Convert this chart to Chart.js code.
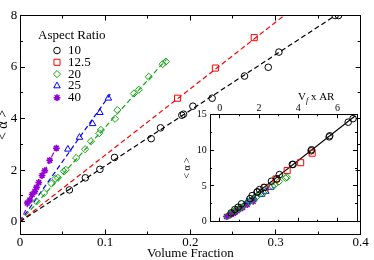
<!DOCTYPE html>
<html>
<head>
<meta charset="utf-8">
<script src="https://cdn.jsdelivr.net/npm/chart.js@4.4.1/dist/chart.umd.min.js"></script>
<style>
  body { margin: 0; background: #fff; }
  #wrap { position: relative; width: 374px; height: 260px; }
  #mainChart { position: absolute; left: 0; top: 0; }
  #insetChart { position: absolute; left: 180px; top: 85px; }
</style>
</head>
<body>
<div id="wrap">
  <canvas id="mainChart" width="374" height="260"></canvas>
  <canvas id="insetChart" width="185" height="150"></canvas>
</div>
<script>
// Data: volume fraction vs <alpha>, one set per aspect ratio
var aspectRatios = [10, 12.5, 20, 25, 40];

var ar10X = [0.058, 0.0767, 0.0938, 0.111, 0.154, 0.165, 0.190, 0.192, 0.203, 0.2256, 0.2636, 0.2915, 0.304, 0.370, 0.374, 0.466, 0.468, 0.558, 0.561, 0.655, 0.680];
var ar10Y = [1.23, 1.70, 2.03, 2.49, 3.22, 3.64, 4.13, 4.17, 4.48, 4.79, 5.65, 5.99, 6.58, 8.0, 8.0, 9.9, 10.05, 11.85, 12.0, 13.9, 14.4];

var ar12X = [0.185, 0.2294, 0.275, 0.330, 0.377];
var ar12Y = [4.79, 5.96, 7.14, 8.24, 9.57];

var ar20X = [0.0194, 0.0283, 0.0369, 0.0415, 0.0445, 0.0515, 0.0537, 0.0659, 0.0764, 0.0834, 0.093, 0.095, 0.1116, 0.1143, 0.1337, 0.1395, 0.1512, 0.1674, 0.1713];
var ar20Y = [0.78, 1.11, 1.48, 1.67, 1.70, 1.95, 2.01, 2.47, 2.81, 3.12, 3.43, 3.56, 3.99, 4.33, 4.97, 5.12, 5.62, 6.11, 6.21];

var ar25X = [0.0562, 0.0698, 0.0852, 0.0938, 0.1038];
var ar25Y = [2.81, 3.27, 3.80, 4.23, 4.79];

var ar40X = [0.0085, 0.0116, 0.0143, 0.0174, 0.0194, 0.0221, 0.0259, 0.0291, 0.0349, 0.0427];
var ar40Y = [0.72, 0.84, 1.05, 1.17, 1.33, 1.52, 1.79, 1.98, 2.38, 2.85];

// dashed fit lines in the main plot (end points)
var fit10X = [0, 0.4],    fit10Y = [0, 8.64];
var fit12X = [0, 0.33],   fit12Y = [0, 8.51];
var fit20X = [0, 0.172],  fit20Y = [0, 6.3];
var fit25X = [0, 0.106],  fit25Y = [0, 4.95];
var fit40X = [0, 0.0435], fit40Y = [0, 2.95];

// solid line in the inset (Vf x AR vs <alpha>)
var insetFitX = [0.25, 6.9], insetFitY = [0.5, 14.75];

var seriesX = [ar10X, ar12X, ar20X, ar25X, ar40X];
var seriesY = [ar10Y, ar12Y, ar20Y, ar25Y, ar40Y];
var colors = ['#000000', '#ff0000', 'rgb(20,165,20)', '#0000ff', 'rgb(148,0,211)'];
var styles = ['circle', 'rect', 'rectRot', 'triangle', 'star'];
var radii = [3.3, 4.3, 3.6, 3.8, 3.4];
var widths = [1, 1, 1, 1, 1.6];

Chart.defaults.font.family = '"Liberation Serif", "Times New Roman", serif';
Chart.defaults.color = '#000';

function pts(xs, ys, k) {
    return xs.map(function (x, i) { return { x: x * (k || 1), y: ys[i] }; });
}

function markerSet(i, k) {
    return {
        label: String(aspectRatios[i]),
        data: pts(seriesX[i], seriesY[i], k),
        xAxisID: 'x', yAxisID: 'y',
        showLine: false,
        pointStyle: styles[i],
        pointRadius: radii[i],
        pointHoverRadius: radii[i],
        pointBorderWidth: widths[i],
        borderColor: colors[i],
        pointBorderColor: colors[i],
        backgroundColor: 'rgba(0,0,0,0)',
        pointBackgroundColor: 'rgba(0,0,0,0)'
    };
}

function lineSet(xs, ys, color, dash) {
    return {
        data: pts(xs, ys),
        xAxisID: 'x', yAxisID: 'y',
        showLine: true,
        borderColor: color,
        borderWidth: 1.2,
        borderDash: dash,
        pointRadius: 0,
        pointHoverRadius: 0,
        fill: false
    };
}

// axis that only draws inward ticks (and optionally labels / title)
function tickAxis(o) {
    return {
        type: 'linear',
        position: o.pos,
        min: o.min,
        max: o.max,
        weight: o.weight || 0,
        grid: { display: true, drawOnChartArea: false, drawTicks: true, tickLength: -o.len, color: '#000', tickColor: '#000', tickWidth: 1 },
        border: { display: true, color: '#000', width: 1 },
        ticks: {
            display: !!o.labels,
            stepSize: o.step,
            includeBounds: false,
            autoSkip: false,
            maxRotation: 0,
            padding: o.pad || 0,
            font: { size: o.fontSize || 13 }
        },
        title: o.title || { display: false },
        afterFit: function (s) {
            if (s.isHorizontal()) s.height = o.size || 0; else s.width = o.size || 0;
        }
    };
}

var legendPlugin = {
    id: 'arLegend',
    afterDraw: function (chart) {
        var ctx = chart.ctx, a = chart.chartArea;
        ctx.save();
        ctx.font = '13px "Liberation Serif", serif';
        ctx.textBaseline = 'middle';
        ctx.textAlign = 'left';
        ctx.fillStyle = '#000';
        ctx.fillText('Aspect Ratio', a.left + 18, a.top + 20);
        aspectRatios.forEach(function (ar, i) {
            var y = a.top + 35 + i * 11.8;
            ctx.strokeStyle = colors[i];
            ctx.fillStyle = 'rgba(0,0,0,0)';
            ctx.lineWidth = widths[i];
            Chart.helpers.drawPoint(ctx, { pointStyle: styles[i], radius: radii[i], rotation: 0, borderWidth: widths[i] }, a.left + 37, y);
            ctx.fillStyle = '#000';
            ctx.fillText(String(ar), a.left + 48, y);
        });
        ctx.restore();
    }
};

var insetTitlePlugin = {
    id: 'insetTitle',
    afterDraw: function (chart) {
        var ctx = chart.ctx, a = chart.chartArea;
        var x = a.left + 88, y = 15;
        ctx.save();
        ctx.fillStyle = '#000';
        ctx.textBaseline = 'alphabetic';
        ctx.textAlign = 'left';
        ctx.font = '11px "Liberation Serif", serif';
        ctx.fillText('V', x, y);
        x += ctx.measureText('V').width;
        ctx.font = 'italic 8px "Liberation Serif", serif';
        ctx.fillText('f', x, y + 3);
        x += ctx.measureText('f').width;
        ctx.font = '11px "Liberation Serif", serif';
        ctx.fillText(' x AR', x, y);
        ctx.restore();
    }
};

// Main chart: <alpha> vs volume fraction
var ctx1 = document.getElementById('mainChart').getContext('2d');
var mainDatasets = [0, 1, 2, 3, 4].map(function (i) { return markerSet(i); });
mainDatasets[1].clip = 0;
mainDatasets.push(lineSet(fit10X, fit10Y, colors[0], [5, 3]));
mainDatasets.push(lineSet(fit12X, fit12Y, colors[1], [5, 3]));
mainDatasets.push(lineSet(fit20X, fit20Y, colors[2], [5, 3]));
mainDatasets.push(lineSet(fit25X, fit25Y, colors[3], [5, 3]));
mainDatasets.push(lineSet(fit40X, fit40Y, colors[4], [5, 3]));

var mainChart = new Chart(ctx1, {
    type: 'scatter',
    data: { datasets: mainDatasets },
    options: {
        responsive: false,
        animation: false,
        devicePixelRatio: 1,
        layout: { autoPadding: false, padding: { left: 0, top: 5, right: 10, bottom: 0 } },
        plugins: { legend: { display: false }, tooltip: { enabled: false } },
        scales: {
            x: tickAxis({ pos: 'bottom', min: 0, max: 0.4, step: 0.1, len: 5, weight: 10, size: 25.5, labels: true, pad: 5.2,
                title: { display: true, text: 'Volume Fraction', font: { size: 13 }, padding: { top: 0, bottom: -1.8 } } }),
            xMinor: tickAxis({ pos: 'bottom', min: 0, max: 0.4, step: 0.05, len: 3 }),
            xTop: tickAxis({ pos: 'top', min: 0, max: 0.4, step: 0.1, len: 5, weight: 10 }),
            xTopMinor: tickAxis({ pos: 'top', min: 0, max: 0.4, step: 0.05, len: 3 }),
            y: tickAxis({ pos: 'left', min: -0.5, max: 8, step: 2, len: 5, weight: 10, size: 20, labels: true, pad: 7.7,
                title: { display: true, text: '< α >', font: { size: 14 }, padding: { top: -4.9, bottom: 0 } } }),
            yMinor: tickAxis({ pos: 'left', min: -0.5, max: 8, step: 1, len: 3 }),
            yRight: tickAxis({ pos: 'right', min: -0.5, max: 8, step: 2, len: 5, weight: 10 }),
            yRightMinor: tickAxis({ pos: 'right', min: -0.5, max: 8, step: 1, len: 3 })
        }
    },
    plugins: [legendPlugin]
});

// Inset: <alpha> vs Vf x AR
var ctx2 = document.getElementById('insetChart').getContext('2d');
var insetDatasets = [0, 1, 2, 3, 4].map(function (i) { return markerSet(i, aspectRatios[i]); });
insetDatasets.push(lineSet(insetFitX, insetFitY, '#000', []));

var insetChart = new Chart(ctx2, {
    type: 'scatter',
    data: { datasets: insetDatasets },
    options: {
        responsive: false,
        animation: false,
        devicePixelRatio: 1,
        layout: { autoPadding: false, padding: { left: 0, top: 0, right: 8, bottom: 8.3 } },
        plugins: { legend: { display: false }, tooltip: { enabled: false } },
        scales: {
            x: tickAxis({ pos: 'top', min: -0.5, max: 7, step: 2, len: 4, weight: 10, size: 29.3, labels: true, pad: 3.8, fontSize: 10 }),
            xMinor: tickAxis({ pos: 'top', min: -0.5, max: 7, step: 1, len: 2 }),
            xBottom: tickAxis({ pos: 'bottom', min: -0.5, max: 7, step: 2, len: 4, weight: 10 }),
            xBottomMinor: tickAxis({ pos: 'bottom', min: -0.5, max: 7, step: 1, len: 2 }),
            y: tickAxis({ pos: 'left', min: 0, max: 15, step: 5, len: 4, weight: 10, size: 30, labels: true, pad: 7.3, fontSize: 10,
                title: { display: true, text: '< α >', font: { size: 10 }, padding: { top: 1, bottom: 0 } } }),
            yMinor: tickAxis({ pos: 'left', min: 0, max: 15, step: 2.5, len: 2 }),
            yRight: tickAxis({ pos: 'right', min: 0, max: 15, step: 5, len: 4, weight: 10 }),
            yRightMinor: tickAxis({ pos: 'right', min: 0, max: 15, step: 2.5, len: 2 })
        }
    },
    plugins: [insetTitlePlugin]
});
</script>
</body>
</html>
